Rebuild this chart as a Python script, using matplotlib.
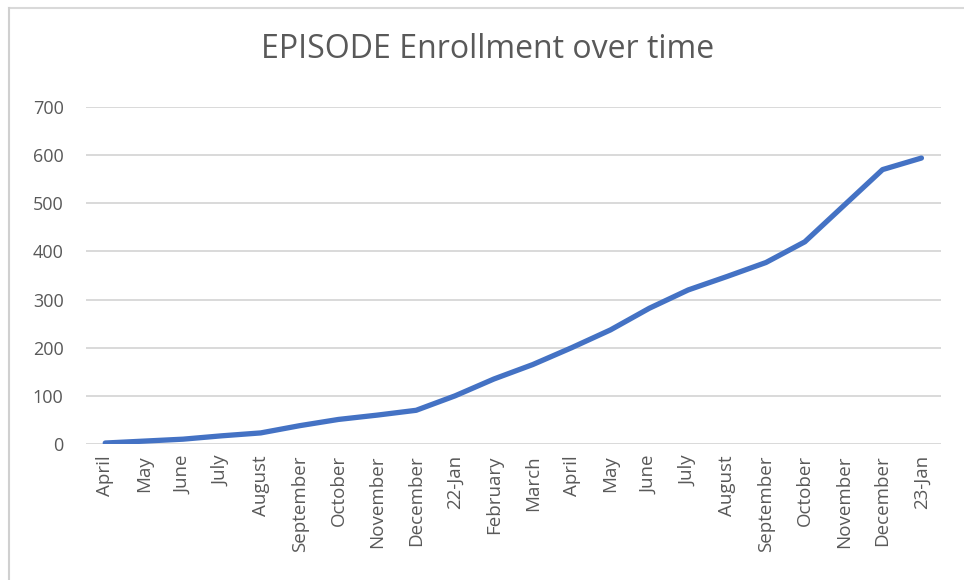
import matplotlib
matplotlib.use("Agg")
import matplotlib.pyplot as plt
from matplotlib.lines import Line2D

months = ["April", "May", "June", "July", "August", "September", "October",
          "November", "December", "22-Jan", "February", "March", "April", "May",
          "June", "July", "August", "September", "October", "November",
          "December", "23-Jan"]
enrollment = [2, 6, 10, 17, 23, 38, 51, 60, 70, 100, 135, 165, 200, 237,
              282, 320, 348, 377, 420, 495, 570, 594]
yticks = [0, 100, 200, 300, 400, 500, 600, 700]

plt.rcParams['font.family'] = ['Open Sans', 'DejaVu Sans']

fig = plt.figure(figsize=(9.64, 5.8), dpi=100)
ax = fig.add_axes([0.089, 0.2345, 0.887, 0.581])

x = list(range(len(months)))
ax.plot(x, enrollment, color="#4472C4", linewidth=3.8, solid_capstyle="round",
        solid_joinstyle="round", zorder=3)

ax.set_xlim(-0.5, len(months) - 0.5)
ax.set_ylim(0, 700)
ax.set_yticks(yticks)
ax.set_yticklabels([str(v) for v in yticks], fontsize=13, color="#595959")
ax.set_xticks(x)
ax.set_xticklabels(months, rotation=90, fontsize=13.5, color="#595959")
ax.tick_params(axis="y", length=0, pad=16)
ax.tick_params(axis="x", length=0, pad=8)
ax.yaxis.grid(True, color="#d9d9d9", linewidth=1.4)
ax.set_axisbelow(True)
for s in ax.spines.values():
    s.set_visible(False)

fig.text(0.506, 0.915, "EPISODE Enrollment over time", ha="center", va="center",
         fontsize=23, color="#595959")

# light frame round the chart (top and left edges visible)
fig.add_artist(Line2D([0.009, 1], [0.986, 0.986], color="#d9d9d9", linewidth=1.5,
                      transform=fig.transFigure))
fig.add_artist(Line2D([0.009, 0.009], [0, 0.986], color="#d0d0d0", linewidth=1.5,
                      transform=fig.transFigure))

fig.savefig("out.png", dpi=100)
